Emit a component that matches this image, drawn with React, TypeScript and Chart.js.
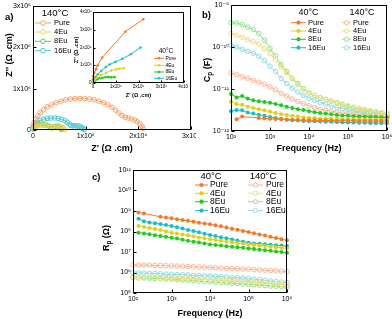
import React, { useEffect, useRef } from 'react';
import { Chart, registerables } from 'chart.js';
Chart.register(...registerables);

const FONT = "'Liberation Sans', Arial, 'DejaVu Sans', sans-serif";
Chart.defaults.font.family = FONT;
Chart.defaults.color = '#000';

// ---------------- data ----------------
const seriesNames = ['Pure', '4Eu', '8Eu', '16Eu'];

// Panel a: Nyquist at 140 °C (Ω·cm)
const zrPure140 = [0, 0.02e6, 0.05e6, 0.09e6, 0.14e6, 0.2e6, 0.27e6, 0.35e6, 0.44e6, 0.53e6, 0.62e6, 0.71e6, 0.8e6, 0.89e6, 0.98e6, 1.07e6, 1.16e6, 1.25e6, 1.34e6, 1.42e6, 1.5e6, 1.57e6, 1.63e6, 1.69e6, 1.75e6, 1.81e6, 1.87e6, 1.93e6, 1.98e6, 2.03e6, 2.07e6, 2.09e6];
const ziPure140 = [0.1e6, 0.18e6, 0.26e6, 0.34e6, 0.42e6, 0.49e6, 0.56e6, 0.61e6, 0.66e6, 0.7e6, 0.73e6, 0.75e6, 0.76e6, 0.76e6, 0.76e6, 0.75e6, 0.73e6, 0.7e6, 0.66e6, 0.61e6, 0.55e6, 0.48e6, 0.41e6, 0.35e6, 0.31e6, 0.29e6, 0.27e6, 0.24e6, 0.2e6, 0.15e6, 0.09e6, 0.04e6];
const zr4Eu140 = [0.01e6, 0.03e6, 0.06e6, 0.1e6, 0.15e6, 0.2e6, 0.26e6, 0.31e6, 0.36e6, 0.4e6, 0.44e6, 0.48e6, 0.52e6, 0.56e6, 0.59e6, 0.6e6];
const zi4Eu140 = [0.02e6, 0.06e6, 0.09e6, 0.11e6, 0.12e6, 0.12e6, 0.12e6, 0.1e6, 0.08e6, 0.06e6, 0.06e6, 0.07e6, 0.07e6, 0.06e6, 0.03e6, 0.01e6];
const zr8Eu140 = [0, 0.02e6, 0.05e6, 0.09e6, 0.14e6, 0.19e6, 0.24e6, 0.29e6, 0.33e6, 0.36e6, 0.4e6, 0.44e6, 0.48e6, 0.51e6, 0.53e6, 0.54e6];
const zi8Eu140 = [0.02e6, 0.06e6, 0.09e6, 0.12e6, 0.13e6, 0.13e6, 0.12e6, 0.1e6, 0.07e6, 0.05e6, 0.07e6, 0.09e6, 0.09e6, 0.07e6, 0.04e6, 0.01e6];
const zr16Eu140 = [0, 0.02e6, 0.05e6, 0.09e6, 0.14e6, 0.2e6, 0.27e6, 0.34e6, 0.41e6, 0.48e6, 0.54e6, 0.6e6, 0.65e6, 0.69e6, 0.72e6, 0.76e6, 0.8e6, 0.84e6, 0.88e6, 0.92e6, 0.95e6, 0.97e6];
const zi16Eu140 = [0.04e6, 0.1e6, 0.15e6, 0.19e6, 0.23e6, 0.26e6, 0.28e6, 0.29e6, 0.29e6, 0.28e6, 0.26e6, 0.23e6, 0.19e6, 0.14e6, 0.11e6, 0.1e6, 0.1e6, 0.1e6, 0.09e6, 0.07e6, 0.04e6, 0.01e6];

// Inset: Nyquist at 40 °C
const zrPure40 = [0, 0.01e6, 0.06e6, 0.13e6, 0.2e6, 0.4e6, 1.42e6, 2.21e6];
const ziPure40 = [0.21e6, 0.39e6, 0.58e6, 0.77e6, 0.99e6, 1.43e6, 2.89e6, 3.59e6];
const zr4Eu40 = [0, 0.07e6, 0.18e6, 0.36e6, 0.58e6, 0.8e6, 1.02e6, 1.17e6, 1.35e6];
const zi4Eu40 = [0.03e6, 0.17e6, 0.3e6, 0.45e6, 0.58e6, 0.7e6, 0.77e6, 0.81e6, 0.83e6];
const zr8Eu40 = [0, 0.05e6, 0.12e6, 0.2e6, 0.3e6, 0.42e6, 0.55e6, 0.68e6, 0.8e6, 0.95e6];
const zi8Eu40 = [0.02e6, 0.1e6, 0.17e6, 0.23e6, 0.27e6, 0.3e6, 0.32e6, 0.33e6, 0.33e6, 0.33e6];
const zr16Eu40 = [0, 0.02e6, 0.11e6, 0.21e6, 0.36e6, 0.56e6, 0.73e6, 0.99e6, 1.29e6, 1.66e6, 2.09e6];
const zi16Eu40 = [0.05e6, 0.17e6, 0.34e6, 0.49e6, 0.68e6, 0.9e6, 1.04e6, 1.19e6, 1.37e6, 1.62e6, 2.0e6];

// Panels b, c: frequency (Hz)
const freqHz = [100, 139, 193, 268, 373, 518, 720, 1000, 1389, 1931, 2683, 3728, 5179, 7197, 10000, 13895, 19307, 26827, 37276, 51795, 71969, 100000, 138950, 193070, 268270, 372760, 517950, 719690, 1000000];

// Cp (F)
const cpPure40 = [null, 1.9e-12, 2.2e-12, null, null, 2.05e-12, 2.0e-12, 1.95e-12, 1.92e-12, 1.9e-12, 1.88e-12, 1.86e-12, 1.84e-12, 1.82e-12, 1.81e-12, 1.8e-12, 1.79e-12, 1.78e-12, 1.77e-12, 1.76e-12, 1.76e-12, 1.75e-12, 1.75e-12, 1.74e-12, 1.74e-12, 1.73e-12, 1.73e-12, 1.72e-12, 1.72e-12];
const cp4Eu40 = [5.0e-12, 4.4e-12, 4.2e-12, 3.8e-12, 3.55e-12, 3.3e-12, 3.1e-12, 2.9e-12, 2.7e-12, 2.5e-12, 2.4e-12, 2.3e-12, 2.2e-12, 2.1e-12, 2.05e-12, 2.0e-12, 1.95e-12, 1.95e-12, 1.92e-12, 1.92e-12, 1.9e-12, 1.9e-12, 1.9e-12, 1.88e-12, 1.88e-12, 1.87e-12, 1.87e-12, 1.86e-12, 1.86e-12];
const cp8Eu40 = [7.6e-12, 6.3e-12, 6.8e-12, 5.9e-12, 5.4e-12, 5.1e-12, 4.9e-12, 4.7e-12, 4.4e-12, 4.1e-12, 3.8e-12, 3.55e-12, 3.3e-12, 3.15e-12, 2.95e-12, 2.8e-12, 2.7e-12, 2.6e-12, 2.5e-12, 2.4e-12, 2.35e-12, 2.3e-12, 2.25e-12, 2.2e-12, 2.2e-12, 2.15e-12, 2.15e-12, 2.1e-12, 2.1e-12];
const cp16Eu40 = [2.95e-12, 3.15e-12, 3.1e-12, 2.75e-12, 2.6e-12, 2.45e-12, 2.3e-12, 2.15e-12, 2.05e-12, 1.95e-12, 1.85e-12, 1.8e-12, 1.78e-12, 1.74e-12, 1.7e-12, 1.7e-12, 1.68e-12, 1.66e-12, 1.65e-12, 1.63e-12, 1.62e-12, 1.6e-12, 1.6e-12, 1.58e-12, 1.57e-12, 1.56e-12, 1.55e-12, 1.54e-12, 1.53e-12];
const cpPure140 = [2.4e-11, 2.2e-11, 1.95e-11, 1.8e-11, 1.6e-11, 1.45e-11, 1.3e-11, 1.12e-11, 9.5e-12, 7.9e-12, 6.8e-12, 5.8e-12, 5.0e-12, 4.5e-12, 4.0e-12, 3.6e-12, 3.3e-12, 3.1e-12, 2.95e-12, 2.8e-12, 2.7e-12, 2.6e-12, 2.5e-12, 2.4e-12, 2.35e-12, 2.25e-12, 2.2e-12, 2.15e-12, 2.1e-12];
const cp4Eu140 = [2.1e-10, 1.9e-10, 1.7e-10, 1.5e-10, 1.35e-10, 1.17e-10, 9.1e-11, 6.9e-11, 5.0e-11, 3.4e-11, 2.4e-11, 1.74e-11, 1.25e-11, 9.8e-12, 8.0e-12, 7.0e-12, 6.3e-12, 5.7e-12, 5.2e-12, 4.8e-12, 4.4e-12, 4.0e-12, 3.7e-12, 3.45e-12, 3.25e-12, 3.05e-12, 2.9e-12, 2.75e-12, 2.65e-12];
const cp8Eu140 = [3.8e-10, 3.7e-10, 3.4e-10, 3.0e-10, 2.6e-10, 2.1e-10, 1.45e-10, 9.3e-11, 6.2e-11, 3.8e-11, 2.6e-11, 1.8e-11, 1.35e-11, 1.02e-11, 8.1e-12, 6.9e-12, 6.2e-12, 5.6e-12, 5.1e-12, 4.7e-12, 4.2e-12, 3.8e-12, 3.55e-12, 3.3e-12, 3.1e-12, 2.9e-12, 2.75e-12, 2.6e-12, 2.5e-12];
const cp16Eu140 = [1.1e-10, 1.0e-10, 8.9e-11, 7.9e-11, 7.1e-11, 6.0e-11, 4.7e-11, 3.5e-11, 2.6e-11, 1.8e-11, 1.35e-11, 1.05e-11, 8.5e-12, 7.1e-12, 6.0e-12, 5.4e-12, 4.8e-12, 4.4e-12, 4.0e-12, 3.6e-12, 3.4e-12, 3.2e-12, 2.95e-12, 2.75e-12, 2.6e-12, 2.4e-12, 2.3e-12, 2.2e-12, 2.1e-12];

// Rp (Ω)
const rpPure40 = [null, 8.5e8, 7.6e8, null, null, 5.2e8, 4.8e8, 4.4e8, 4.0e8, 3.6e8, 3.3e8, 2.95e8, 2.7e8, 2.45e8, 2.24e8, 2.0e8, 1.78e8, 1.55e8, 1.38e8, 1.23e8, 1.07e8, 9.5e7, 8.3e7, 7.2e7, 6.3e7, 5.5e7, 4.8e7, 4.2e7, 3.7e7];
const rp4Eu40 = [null, 1.86e8, 1.66e8, 1.48e8, 1.32e8, 1.17e8, 1.0e8, 8.7e7, 7.9e7, 7.1e7, 6.5e7, 5.8e7, 5.1e7, 4.7e7, 4.2e7, 3.8e7, 3.55e7, 3.2e7, 3.0e7, 2.75e7, 2.55e7, 2.35e7, 2.2e7, 2.05e7, 1.95e7, 1.8e7, 1.7e7, 1.6e7, 1.5e7];
const rp8Eu40 = [null, 8.7e7, 8.1e7, 7.4e7, 6.6e7, 6.0e7, 5.5e7, 5.0e7, 4.5e7, 4.0e7, 3.55e7, 3.2e7, 2.9e7, 2.6e7, 2.35e7, 2.2e7, 2.05e7, 1.9e7, 1.8e7, 1.7e7, 1.6e7, 1.5e7, 1.4e7, 1.3e7, 1.23e7, 1.15e7, 1.07e7, 1.0e7, 9.3e6];
const rp16Eu40 = [null, 4.2e8, 3.2e8, 2.75e8, 2.5e8, 2.3e8, 2.05e8, 1.86e8, 1.62e8, 1.41e8, 1.2e8, 1.05e8, 9.1e7, 7.8e7, 6.8e7, 6.0e7, 5.2e7, 4.7e7, 4.1e7, 3.6e7, 3.2e7, 2.8e7, 2.6e7, 2.5e7, 2.4e7, 2.25e7, 2.15e7, 2.05e7, 1.95e7];
const rpPure140 = [2.35e6, 2.3e6, 2.3e6, 2.25e6, 2.2e6, 2.2e6, 2.15e6, 2.1e6, 2.05e6, 2.0e6, 1.95e6, 1.9e6, 1.85e6, 1.8e6, 1.75e6, 1.7e6, 1.65e6, 1.6e6, 1.58e6, 1.52e6, 1.48e6, 1.45e6, 1.38e6, 1.35e6, 1.3e6, 1.24e6, 1.2e6, 1.15e6, 1.1e6];
const rp4Eu140 = [6.0e5, 5.9e5, 5.8e5, 5.7e5, 5.6e5, 5.5e5, 5.4e5, 5.3e5, 5.2e5, 5.1e5, 5.0e5, 4.85e5, 4.7e5, 4.6e5, 4.5e5, 4.35e5, 4.2e5, 4.1e5, 3.95e5, 3.8e5, 3.7e5, 3.55e5, 3.4e5, 3.25e5, 3.1e5, 2.95e5, 2.8e5, 2.6e5, 2.4e5];
const rp8Eu140 = [5.6e5, 5.5e5, 5.4e5, 5.2e5, 5.1e5, 5.0e5, 4.8e5, 4.7e5, 4.5e5, 4.3e5, 4.2e5, 4.0e5, 3.8e5, 3.65e5, 3.55e5, 3.4e5, 3.25e5, 3.1e5, 2.95e5, 2.9e5, 2.75e5, 2.65e5, 2.5e5, 2.4e5, 2.3e5, 2.2e5, 2.15e5, 2.05e5, 1.95e5];
const rp16Eu140 = [9.8e5, 9.5e5, 9.3e5, 9.1e5, 8.9e5, 8.7e5, 8.3e5, 8.1e5, 7.9e5, 7.8e5, 7.6e5, 7.2e5, 7.1e5, 6.9e5, 6.8e5, 6.5e5, 6.2e5, 6.0e5, 5.75e5, 5.5e5, 5.4e5, 5.1e5, 4.8e5, 4.5e5, 4.2e5, 3.9e5, 3.6e5, 3.4e5, 3.2e5];

// Ticks
const zTicks = [0, 1e6, 2e6, 3e6];
const zTickLabels = ['0', '1x10⁶', '2x10⁶', '3x10⁶'];
const zInsetTicks = [0, 1e6, 2e6, 3e6, 4e6];
const zInsetTickLabels = ['0', '1x10⁶', '2x10⁶', '3x10⁶', '4x10⁶'];
const freqTicks = [1e2, 1e3, 1e4, 1e5, 1e6];
const freqTickLabels = ['10²', '10³', '10⁴', '10⁵', '10⁶'];
const cpTicks = [1e-12, 1e-11, 1e-10, 1e-9];
const cpTickLabels = ['10⁻¹²', '10⁻¹¹', '10⁻¹⁰', '10⁻⁹'];
const rpTicks = [1e5, 1e6, 1e7, 1e8, 1e9, 1e10, 1e11];
const rpTickLabels = ['10⁵', '10⁶', '10⁷', '10⁸', '10⁹', '10¹⁰', '10¹¹'];

// Colours
const color40 = ['#F47A22', '#E3CF14', '#1FCB1F', '#14C1C9'];
const color140a = ['#F4A46E', '#EAD35E', '#52D152', '#48C9D3'];
const color140bc = ['#F7B896', '#EDE07C', '#8FE28F', '#8FDCE5'];

// ---------------- helpers ----------------
const pts = (xs: number[], ys: (number | null)[]) =>
  xs.map((x, i) => ({ x, y: ys[i] })).filter((p) => p.y !== null && p.y !== undefined);

function ds(data: any[], color: string, filled: boolean, r: number) {
  return {
    data,
    borderColor: color,
    backgroundColor: color,
    borderWidth: 1,
    pointRadius: r,
    pointBorderWidth: filled ? 0 : 1,
    pointBackgroundColor: filled ? color : 'rgba(255,255,255,0)',
    pointBorderColor: color,
    pointStyle: 'circle',
    tension: 0,
    clip: false,
    spanGaps: true,
    showLine: true,
    fill: false,
  };
}

function axis(o: any) {
  return {
    type: o.type,
    min: o.min,
    max: o.max,
    grid: { display: false, drawTicks: false },
    border: { display: false },
    afterBuildTicks: (s: any) => {
      s.ticks = o.tickValues.map((v: number) => ({ value: v }));
    },
    ticks: {
      autoSkip: false,
      maxRotation: 0,
      minRotation: 0,
      padding: o.tickPad,
      color: '#000',
      font: { size: o.tickFont, family: FONT },
      callback: (v: any) => {
        const i = o.tickValues.findIndex((t: number) => Math.abs(t - v) <= Math.abs(t) * 1e-6);
        return i >= 0 ? o.tickLabels[i] : '';
      },
    },
    title: o.title
      ? { display: true, text: o.title, color: '#000', font: { size: o.titleFont, weight: 'bold', family: FONT }, padding: o.titlePad }
      : { display: false },
    afterFit: o.fit,
  };
}

const fixY = (w: number) => (s: any) => { s.width = w; s.paddingTop = 0; s.paddingBottom = 0; };
const fixX = (h: number) => (s: any) => { s.height = h; s.paddingLeft = 0; s.paddingRight = 0; };

function decor(cfg: any) {
  return {
    id: 'decor',
    afterDatasetsDraw(chart: any) {
      const { ctx, chartArea: a } = chart;
      ctx.save();
      ctx.strokeStyle = '#000';
      ctx.lineWidth = 1;
      const L = Math.round(a.left) + 0.5, T = Math.round(a.top) + 0.5;
      const R = Math.round(a.right) - 0.5, B = Math.round(a.bottom) - 0.5;
      ctx.strokeRect(L, T, R - L, B - T);
      const tl = cfg.tick;
      ctx.beginPath();
      const xs = chart.scales.x, ys = chart.scales.y;
      xs.ticks.forEach((t: any) => {
        const px = Math.round(xs.getPixelForValue(t.value)) + 0.5;
        ctx.moveTo(px, B); ctx.lineTo(px, B - tl);
      });
      ys.ticks.forEach((t: any) => {
        const py = Math.round(ys.getPixelForValue(t.value)) + 0.5;
        ctx.moveTo(L, py); ctx.lineTo(L + tl, py);
      });
      ctx.stroke();
      ctx.restore();
    },
    afterDraw(chart: any) {
      const ctx = chart.ctx;
      ctx.save();
      // legend
      const lg = cfg.legend;
      ctx.textBaseline = 'middle';
      ctx.fillStyle = '#000';
      ctx.textAlign = 'center';
      ctx.font = `${lg.headFont}px ${FONT}`;
      lg.headers.forEach((h: any) => ctx.fillText(h.text, h.cx, h.y));
      ctx.textAlign = 'left';
      lg.rows.forEach((r: any) => {
        ctx.strokeStyle = r.color;
        ctx.lineWidth = 1;
        ctx.beginPath(); ctx.moveTo(r.x1, r.y); ctx.lineTo(r.x2, r.y); ctx.stroke();
        ctx.beginPath();
        ctx.arc((r.x1 + r.x2) / 2, r.y, lg.r, 0, Math.PI * 2);
        if (r.filled) { ctx.fillStyle = r.color; ctx.fill(); }
        else { ctx.fillStyle = '#fff'; ctx.fill(); ctx.stroke(); }
        ctx.fillStyle = '#000';
        ctx.font = `${lg.font}px ${FONT}`;
        ctx.fillText(r.text, r.tx, r.y);
      });
      // y title
      const yt = cfg.ytitle;
      ctx.translate(yt.cx, yt.cy);
      ctx.rotate(-Math.PI / 2);
      ctx.textAlign = 'left';
      ctx.textBaseline = 'middle';
      const fonts = yt.parts.map((p: any) => `bold ${yt.size * (p.scale || 1)}px ${FONT}`);
      let total = 0;
      yt.parts.forEach((p: any, i: number) => { ctx.font = fonts[i]; total += ctx.measureText(p.t).width; });
      let x = -total / 2;
      yt.parts.forEach((p: any, i: number) => {
        ctx.font = fonts[i];
        ctx.fillText(p.t, x, p.dy || 0);
        x += ctx.measureText(p.t).width;
      });
      ctx.restore();
    },
  };
}

function legendRows(colors: string[], filled: boolean, x1: number, x2: number, tx: number, ys: number[]) {
  return seriesNames.map((n, i) => ({ x1, x2, tx, y: ys[i], color: colors[i], filled, text: n }));
}

function baseOptions(padTop: number, padRight: number, x: any, y: any) {
  return {
    responsive: false,
    maintainAspectRatio: false,
    animation: false,
    devicePixelRatio: 1,
    events: [],
    layout: { padding: { top: padTop, right: padRight, left: 0, bottom: 0 } },
    plugins: { legend: { display: false }, tooltip: { enabled: false }, title: { display: false } },
    scales: { x, y },
  };
}

// ---------------- chart configs ----------------
const configA = () => ({
  type: 'line',
  data: {
    datasets: [
      ds(pts(zrPure140, ziPure140), color140a[0], false, 2.3),
      ds(pts(zr4Eu140, zi4Eu140), color140a[1], false, 2.3),
      ds(pts(zr8Eu140, zi8Eu140), color140a[2], false, 2.3),
      ds(pts(zr16Eu140, zi16Eu140), color140a[3], false, 2.3),
    ],
  },
  options: baseOptions(6, 4,
    axis({ type: 'linear', min: 0, max: 3e6, tickValues: zTicks, tickLabels: zTickLabels, tickFont: 7, tickPad: 2, title: "Z' (Ω .cm)", titleFont: 9, titlePad: { top: 0, bottom: 6 }, fit: fixX(30) }),
    axis({ type: 'linear', min: 0, max: 3e6, tickValues: zTicks, tickLabels: zTickLabels, tickFont: 7, tickPad: 2, fit: fixY(33) })),
  plugins: [decor({
    tick: 3,
    legend: { headFont: 9.5, font: 7.5, r: 2.3, headers: [{ text: '140°C', cx: 55, y: 13 }], rows: legendRows(color140a, false, 35, 51, 54, [23, 32, 41.3, 50.7]) },
    ytitle: { cx: 10, cy: 55, size: 9, parts: [{ t: "Z'' (Ω .cm)" }] },
  })],
});

const configInset = () => ({
  type: 'line',
  data: {
    datasets: [
      ds(pts(zrPure40, ziPure40), color40[0], true, 1.3),
      ds(pts(zr4Eu40, zi4Eu40), color40[1], true, 1.3),
      ds(pts(zr8Eu40, zi8Eu40), color40[2], true, 1.3),
      ds(pts(zr16Eu40, zi16Eu40), color40[3], true, 1.3),
    ],
  },
  options: baseOptions(8, 4,
    axis({ type: 'linear', min: 0, max: 4e6, tickValues: zInsetTicks, tickLabels: zInsetTickLabels, tickFont: 4.5, tickPad: 1.5, title: "Z' (Ω .cm)", titleFont: 5.5, titlePad: { top: 0, bottom: 2.5 }, fit: fixX(18) }),
    axis({ type: 'linear', min: 0, max: 4e6, tickValues: zInsetTicks, tickLabels: zInsetTickLabels, tickFont: 4.5, tickPad: 1.5, fit: fixY(23) })),
  plugins: [decor({
    tick: 2,
    legend: { headFont: 6.5, font: 5, r: 1.3, headers: [{ text: '40°C', cx: 96, y: 47 }], rows: legendRows(color40, true, 84, 94, 95.5, [54.3, 61.3, 68, 74.3]) },
    ytitle: { cx: 6, cy: 46, size: 5.5, parts: [{ t: "Z'' (Ω .cm)" }] },
  })],
});

const configB = () => ({
  type: 'line',
  data: {
    datasets: [
      ds(pts(freqHz, cpPure40), color40[0], true, 2),
      ds(pts(freqHz, cp4Eu40), color40[1], true, 2),
      ds(pts(freqHz, cp8Eu40), color40[2], true, 2),
      ds(pts(freqHz, cp16Eu40), color40[3], true, 2),
      ds(pts(freqHz, cpPure140), color140bc[0], false, 2.3),
      ds(pts(freqHz, cp4Eu140), color140bc[1], false, 2.3),
      ds(pts(freqHz, cp8Eu140), color140bc[2], false, 2.3),
      ds(pts(freqHz, cp16Eu140), color140bc[3], false, 2.3),
    ],
  },
  options: baseOptions(5, 3,
    axis({ type: 'logarithmic', min: 1e2, max: 1e6, tickValues: freqTicks, tickLabels: freqTickLabels, tickFont: 7, tickPad: 2, title: 'Frequency (Hz)', titleFont: 9, titlePad: { top: 0, bottom: 6.5 }, fit: fixX(29) }),
    axis({ type: 'logarithmic', min: 1e-12, max: 1e-9, tickValues: cpTicks, tickLabels: cpTickLabels, tickFont: 7, tickPad: 2, fit: fixY(35) })),
  plugins: [decor({
    tick: 3,
    legend: {
      headFont: 9, font: 7.5, r: 2.1,
      headers: [{ text: '40°C', cx: 112.5, y: 12.7 }, { text: '140°C', cx: 166, y: 12.7 }],
      rows: [
        ...legendRows(color40, true, 95, 110, 112, [22.7, 31, 39.3, 47.7]),
        ...legendRows(color140bc, false, 146, 155, 157, [22.7, 31, 39.3, 47.7]),
      ],
    },
    ytitle: { cx: 12, cy: 70, size: 9, parts: [{ t: 'C' }, { t: 'p', scale: 0.7, dy: 2.5 }, { t: ' (F)' }] },
  })],
});

const configC = () => ({
  type: 'line',
  data: {
    datasets: [
      ds(pts(freqHz, rpPure40), color40[0], true, 2),
      ds(pts(freqHz, rp4Eu40), color40[1], true, 2),
      ds(pts(freqHz, rp8Eu40), color40[2], true, 2),
      ds(pts(freqHz, rp16Eu40), color40[3], true, 2),
      ds(pts(freqHz, rpPure140), color140bc[0], false, 2.3),
      ds(pts(freqHz, rp4Eu140), color140bc[1], false, 2.3),
      ds(pts(freqHz, rp8Eu140), color140bc[2], false, 2.3),
      ds(pts(freqHz, rp16Eu140), color140bc[3], false, 2.3),
    ],
  },
  options: baseOptions(10, 17,
    axis({ type: 'logarithmic', min: 1e2, max: 1e6, tickValues: freqTicks, tickLabels: freqTickLabels, tickFont: 7, tickPad: 2, title: 'Frequency (Hz)', titleFont: 9, titlePad: { top: 0, bottom: 0.5 }, fit: fixX(26) }),
    axis({ type: 'logarithmic', min: 1e5, max: 1e11, tickValues: rpTicks, tickLabels: rpTickLabels, tickFont: 7, tickPad: 2, fit: fixY(37) })),
  plugins: [decor({
    tick: 3,
    legend: {
      headFont: 9.5, font: 8.5, r: 2.1,
      headers: [{ text: '40°C', cx: 115, y: 16 }, { text: '140°C', cx: 167, y: 16 }],
      rows: [
        ...legendRows(color40, true, 99, 112, 114, [25, 33.3, 41.7, 50.7]),
        ...legendRows(color140bc, false, 152, 167, 170, [25, 33.3, 41.7, 50.7]),
      ],
    },
    ytitle: { cx: 10.7, cy: 78, size: 9, parts: [{ t: 'R' }, { t: 'p', scale: 0.7, dy: 2.5 }, { t: ' (Ω)' }] },
  })],
});

// ---------------- components ----------------
function ChartCanvas(props: { left: number; top: number; width: number; height: number; config: () => any }) {
  const ref = useRef<HTMLCanvasElement>(null);
  useEffect(() => {
    const chart = new Chart(ref.current as HTMLCanvasElement, props.config() as any);
    return () => chart.destroy();
  }, []);
  return (
    <canvas
      ref={ref}
      width={props.width}
      height={props.height}
      style={{ position: 'absolute', left: props.left, top: props.top, width: props.width, height: props.height }}
    />
  );
}

const labelStyle = (left: number, top: number): React.CSSProperties => ({
  position: 'absolute', left, top, font: `bold 9.5px ${FONT}`, lineHeight: '11px', color: '#000',
});

export default function App() {
  return (
    <div style={{ position: 'fixed', left: 0, top: 0, width: 392, height: 319, background: '#fff', overflow: 'hidden' }}>
      <ChartCanvas left={0} top={0} width={196} height={160} config={configA} />
      <ChartCanvas left={70} top={4} width={118} height={97} config={configInset} />
      <ChartCanvas left={196} top={0} width={196} height={160} config={configB} />
      <ChartCanvas left={96} top={160} width={208} height={159} config={configC} />
      <div style={labelStyle(5, 11)}>a)</div>
      <div style={labelStyle(202, 9)}>b)</div>
      <div style={labelStyle(92, 171)}>c)</div>
    </div>
  );
}
